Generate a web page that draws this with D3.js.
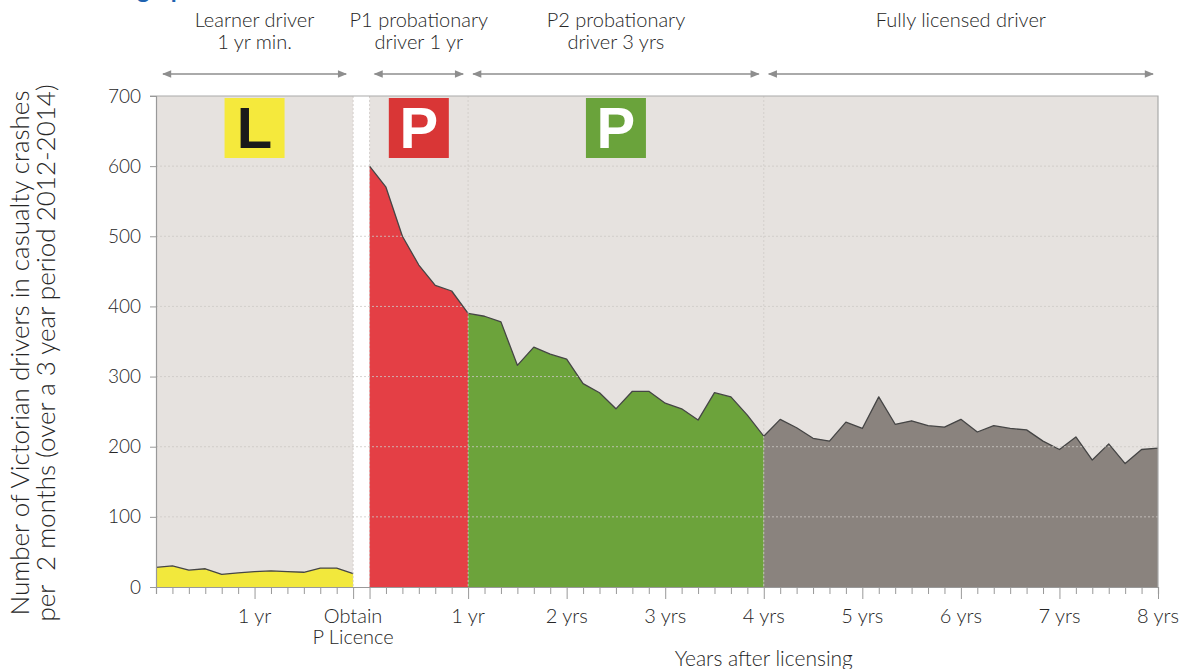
<!DOCTYPE html>
<html>
<head>
<meta charset="utf-8">
<script src="https://cdn.jsdelivr.net/npm/d3@7"></script>
<style>
  body { margin: 0; background: #fff; }
  svg { display: block; font-family: Lato, "Open Sans", sans-serif; font-weight: 300; }
</style>
</head>
<body>
<div id="chart"></div>
<script>
// crashes per 2 months, months relative to obtaining the P licence
const learnerValues = [28, 30, 24, 26, 18, 20, 22, 23, 22, 21, 27, 27, 19];
const p1Values = [600, 570, 500, 459, 430, 422, 390];
const p2Values = [390, 386, 378, 316, 342, 332, 325, 290, 277, 254, 279, 279, 262, 254, 238, 277, 271, 245, 215];
const fullValues = [215, 239, 227, 212, 208, 235, 226, 271, 232, 237, 230, 228, 239, 221, 230, 226, 224, 208, 196, 214, 181, 204, 176, 196, 198];

const stages = [
  { name: ["Learner driver", "1 yr min."], from: -26, to: -2, badge: "L" },
  { name: ["P1 probationary", "driver 1 yr"], from: 0, to: 12, badge: "P" },
  { name: ["P2 probationary", "driver 3 yrs"], from: 12, to: 48, badge: "P" },
  { name: ["Fully licensed driver"], from: 48, to: 96, badge: null }
];
const yTicks = [0, 100, 200, 300, 400, 500, 600, 700];
const xLabels = [
  { m: -14, text: ["1 yr"] },
  { m: -2, text: ["Obtain", "P Licence"] },
  { m: 12, text: ["1 yr"] },
  { m: 24, text: ["2 yrs"] },
  { m: 36, text: ["3 yrs"] },
  { m: 48, text: ["4 yrs"] },
  { m: 60, text: ["5 yrs"] },
  { m: 72, text: ["6 yrs"] },
  { m: 84, text: ["7 yrs"] },
  { m: 96, text: ["8 yrs"] }
];

const series = [
  { start: -26, values: learnerValues, fill: "#f2e83c" },
  { start: 0, values: p1Values, fill: "#e43f45" },
  { start: 12, values: p2Values, fill: "#6ca33b" },
  { start: 48, values: fullValues, fill: "#8a837e" }
];
const badgeColors = ["#f5e93c", "#d93636", "#6aa33b"];
const textColor = "#262626";

const W = 1182, H = 669;
const margin = { top: 96, right: 24, bottom: 82, left: 156 };
const width = W - margin.left - margin.right;
const height = H - margin.top - margin.bottom;

const svg = d3.select("#chart").append("svg")
  .attr("width", W).attr("height", H);

// cut-off heading at the very top
svg.append("text")
  .attr("x", 137).attr("y", -2)
  .attr("font-size", 24).attr("font-weight", 700)
  .attr("fill", "#1f63b0")
  .text("graph");

const g = svg.append("g")
  .attr("transform", "translate(" + margin.left + "," + margin.top + ")");

const x = d3.scaleLinear().domain([-26, 96]).range([0, width]);
const y = d3.scaleLinear().domain([0, 700]).range([height, 0]);

// plot background, with the white gap between learner and P plates
g.append("rect")
  .attr("width", width).attr("height", height)
  .attr("fill", "#e6e2df");
g.append("rect")
  .attr("x", x(-2)).attr("width", x(0) - x(-2))
  .attr("height", height).attr("fill", "#fff");

const area = d3.area()
  .x(d => x(d.m)).y0(height).y1(d => y(d.v));
const line = d3.line()
  .x(d => x(d.m)).y(d => y(d.v));

series.forEach(s => {
  const pts = s.values.map((v, i) => ({ m: s.start + i * 2, v: v }));
  g.append("path").datum(pts)
    .attr("d", area).attr("fill", s.fill);
  g.append("path").datum(pts)
    .attr("d", line)
    .attr("fill", "none")
    .attr("stroke", "#454545")
    .attr("stroke-width", 1.3)
    .attr("stroke-linejoin", "round");
});

// dotted gridlines
g.selectAll(".hgrid")
  .data(yTicks.filter(t => t > 0 && t < 700))
  .enter().append("line")
  .attr("x1", 0).attr("x2", width)
  .attr("y1", d => y(d)).attr("y2", d => y(d))
  .attr("stroke", "#cdc9c5").attr("stroke-opacity", 0.8)
  .attr("stroke-dasharray", "2,2");
g.selectAll(".vgrid")
  .data([-2, 0, 12, 48])
  .enter().append("line")
  .attr("x1", d => x(d)).attr("x2", d => x(d))
  .attr("y1", 0).attr("y2", height)
  .attr("stroke", "#cdc9c5").attr("stroke-opacity", 0.8)
  .attr("stroke-dasharray", "2,2");

// frame top and right
g.append("path")
  .attr("d", "M-6,0H" + width + "V" + height)
  .attr("fill", "none").attr("stroke", "#aaa").attr("stroke-width", 1.2);

// y axis
const yAxis = g.append("g")
  .call(d3.axisLeft(y).tickValues(yTicks).tickSize(6).tickPadding(9));
yAxis.select(".domain").attr("stroke", "#999").attr("stroke-width", 1.2);
yAxis.selectAll(".tick line").attr("stroke", "#999");
yAxis.selectAll(".tick text")
  .attr("font-size", 19).attr("fill", textColor)
  .attr("font-family", "Lato, sans-serif").attr("font-weight", 300);

// x axis: a tick every 2 months, longer ones on the year marks
const majors = new Set([-14, -2, 0, 12, 24, 36, 48, 60, 72, 84, 96]);
const xAxis = g.append("g")
  .attr("transform", "translate(0," + height + ")")
  .call(d3.axisBottom(x).tickValues(d3.range(-24, 97, 2)).tickSize(7).tickFormat(""));
xAxis.select(".domain").attr("stroke", "#999").attr("stroke-width", 1.2);
xAxis.selectAll(".tick line")
  .attr("stroke", "#999")
  .attr("y2", d => majors.has(d) ? 12 : 7);

const xl = g.append("g").attr("fill", textColor).attr("font-size", 20)
  .attr("text-anchor", "middle");
xLabels.forEach(l => {
  const t = xl.append("text").attr("x", x(l.m)).attr("y", height + 36);
  l.text.forEach((s, i) => {
    t.append("tspan").attr("x", x(l.m)).attr("dy", i ? 21 : 0).text(s);
  });
});

svg.append("text")
  .attr("x", margin.left + x(48)).attr("y", 666)
  .attr("text-anchor", "middle").attr("font-size", 21).attr("fill", textColor)
  .text("Years after licensing");

// y label
const yl = svg.append("text")
  .attr("transform", "translate(29," + 353 + ") rotate(-90)")
  .attr("text-anchor", "middle").attr("font-size", 26).attr("fill", textColor)
  .style("white-space", "pre");
yl.append("tspan").attr("x", 0).attr("dy", 0).text("Number of Victorian drivers in casualty crashes");
yl.append("tspan").attr("x", 0).attr("dy", 26).text("per  2 months (over a 3 year period 2012-2014)");

// stage headings with double arrows
const defs = svg.append("defs");
defs.append("marker").attr("id", "arr")
  .attr("viewBox", "0 0 10 10").attr("refX", 9).attr("refY", 5)
  .attr("markerWidth", 9).attr("markerHeight", 7).attr("orient", "auto-start-reverse")
  .append("path").attr("d", "M0,1L10,5L0,9z").attr("fill", "#8e8e8e");

stages.forEach((s, i) => {
  const inset = i === 0 ? 7 : 5;
  const x0 = margin.left + x(s.from) + inset;
  const x1 = margin.left + x(s.to) - inset;
  svg.append("line")
    .attr("x1", x0).attr("x2", x1).attr("y1", 74).attr("y2", 74)
    .attr("stroke", "#8e8e8e").attr("stroke-width", 1.3)
    .attr("marker-start", "url(#arr)").attr("marker-end", "url(#arr)");
  const cx = margin.left + x((s.from + s.to) / 2);
  const t = svg.append("text").attr("text-anchor", "middle")
    .attr("font-size", 20).attr("fill", textColor).attr("y", 27);
  s.name.forEach((n, j) => {
    t.append("tspan").attr("x", cx).attr("dy", j ? 22 : 0).text(n);
  });
  if (s.badge) {
    g.append("rect")
      .attr("x", x((s.from + s.to) / 2) - 30).attr("y", 2)
      .attr("width", 60).attr("height", 60)
      .attr("fill", badgeColors[i]);
    g.append("text")
      .attr("x", x((s.from + s.to) / 2)).attr("y", 52)
      .attr("text-anchor", "middle")
      .attr("font-family", "'Liberation Sans', Arial, sans-serif")
      .attr("font-weight", 700).attr("font-size", 58)
      .attr("fill", i === 0 ? "#1a1a1a" : "#fff")
      .text(s.badge);
  }
});
</script>
</body>
</html>
